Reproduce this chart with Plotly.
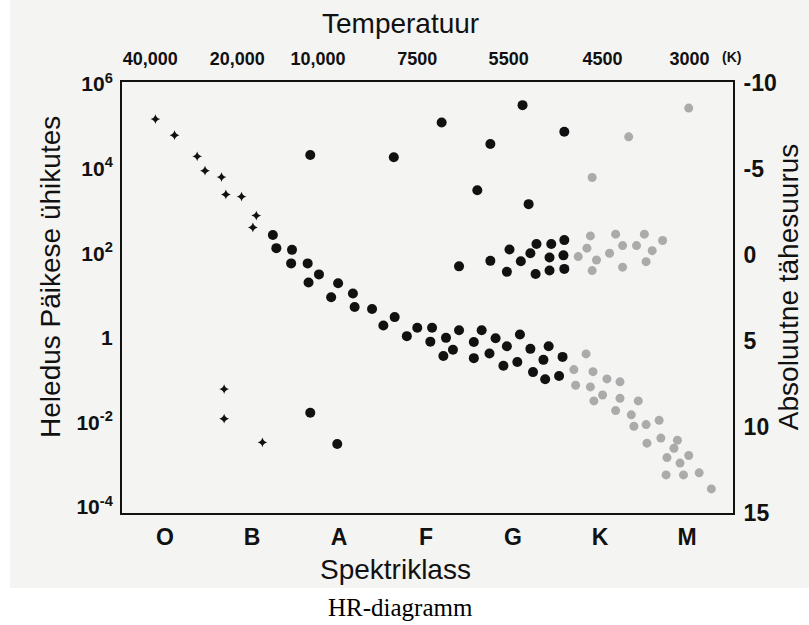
import plotly.graph_objects as go

# Spectral classes (bottom axis) and temperature ticks (top axis)
spectral_labels = ["O", "B", "A", "F", "G", "K", "M"]
spectral_pos = [0, 1, 2, 3, 4, 5, 6]
temp_labels = ["40,000", "20,000", "10,000", "7500", "5500", "4500", "3000"]
temp_pos = [-0.17, 0.83, 1.76, 2.90, 3.95, 5.03, 6.03]

# Luminosity ticks (log10 of L/Lsun) and absolute magnitude ticks
lum_exp = [-4, -2, 0, 2, 4, 6]
lum_labels = ["10<sup>-4</sup>", "10<sup>-2</sup>", "1", "10<sup>2</sup>", "10<sup>4</sup>", "10<sup>6</sup>"]
mag_ticks = [-10, -5, 0, 5, 10, 15]

# Small star markers (hot O/B stars and faint dwarfs)
small_class = [-0.11, 0.11, 0.37, 0.46, 0.65, 0.70, 0.88, 1.05, 1.01, 0.68, 0.68, 1.12]
small_loglum = [5.17, 4.79, 4.29, 3.95, 3.80, 3.39, 3.34, 2.89, 2.61, -1.21, -1.91, -2.47]

# Black dots (main sequence, giants, white dwarfs)
black_class = [1.24, 1.28, 1.46, 1.45, 1.64, 1.77, 1.65, 1.99, 1.91, 2.16, 2.18, 2.38,
               2.64, 2.51, 2.78, 2.90,
               3.07, 3.05, 3.38, 3.64, 3.23, 3.55, 3.80, 4.08, 3.31, 3.20, 3.55, 3.73,
               3.93, 4.20, 4.41, 4.57, 3.89, 4.05, 4.35, 4.23, 4.37, 4.53,
               1.67, 2.63, 3.18, 4.11, 3.74, 4.59, 3.59, 4.18,
               3.96, 4.27, 4.44, 4.59, 4.20, 4.42, 4.58, 4.09, 3.74, 3.38, 3.93, 4.26, 4.42, 4.59,
               1.67, 1.98]
black_loglum = [2.43, 2.12, 2.08, 1.76, 1.76, 1.50, 1.31, 1.29, 0.96, 1.05, 0.73, 0.68,
                0.49, 0.29, 0.04, 0.24,
                0.24, -0.09, 0.18, 0.18, 0.00, -0.10, -0.01, 0.08, -0.28, -0.43, -0.48, -0.37,
                -0.20, -0.26, -0.20, -0.45, -0.66, -0.57, -0.52, -0.81, -0.98, -0.90,
                4.32, 4.27, 5.09, 5.50, 4.58, 4.87, 3.49, 3.16,
                2.09, 2.22, 2.22, 2.31, 2.00, 1.90, 1.95, 1.81, 1.82, 1.69, 1.56, 1.51, 1.59, 1.63,
                -1.77, -2.51]

# Grey dots (cool K/M stars)
grey_class = [6.02, 5.33, 4.91, 4.89, 5.18, 5.51, 5.72, 4.85, 5.26, 5.42, 5.60, 4.75,
              4.96, 5.11, 5.53, 4.91, 5.26,
              4.84, 4.70, 4.92, 5.08, 5.23, 4.72, 4.89, 5.03, 5.23, 5.44, 4.93, 5.18,
              5.36, 5.39, 5.53, 5.68, 5.70, 5.54, 5.89, 5.85, 6.02, 5.77, 5.92, 5.76,
              5.96, 6.14, 6.28]
grey_loglum = [5.43, 4.75, 3.79, 2.41, 2.45, 2.45, 2.30, 2.12, 2.18, 2.18, 2.06, 1.92,
               1.84, 2.00, 1.80, 1.59, 1.67,
               -0.38, -0.75, -0.80, -0.97, -1.04, -1.12, -1.16, -1.35, -1.43, -1.49, -1.49, -1.72,
               -1.82, -2.09, -2.05, -1.95, -2.37, -2.49, -2.42, -2.61, -2.78, -2.83, -2.96, -3.24,
               -3.24, -3.19, -3.57]

FONT = "Liberation Sans"
INK = "#111111"

fig = go.Figure()
fig.add_trace(go.Scatter(x=black_class, y=[10 ** v for v in black_loglum], mode="markers",
                         marker=dict(size=10, color=INK), hoverinfo="skip", showlegend=False))
fig.add_trace(go.Scatter(x=grey_class, y=[10 ** v for v in grey_loglum], mode="markers",
                         marker=dict(size=9, color="#ababab"), hoverinfo="skip", showlegend=False))
fig.add_trace(go.Scatter(x=small_class, y=[10 ** v for v in small_loglum], mode="markers",
                         marker=dict(size=7, color=INK, symbol="star-diamond"),
                         hoverinfo="skip", showlegend=False))
# helper trace to register the top/right axes
fig.add_trace(go.Scatter(x=[None], y=[None], xaxis="x2", yaxis="y2", mode="markers",
                         hoverinfo="skip", showlegend=False))

xr = [-0.494, 6.529]
common = dict(showgrid=False, zeroline=False, showline=True, linecolor=INK, linewidth=2,
              ticks="", automargin=False)
fig.update_layout(
    template="none",
    width=809, height=625,
    margin=dict(l=122, r=76, t=82, b=112, pad=0),
    paper_bgcolor="white", plot_bgcolor="rgba(0,0,0,0)",
    font=dict(family=FONT, color=INK),
    showlegend=False,
    xaxis=dict(range=xr, tickvals=spectral_pos, ticktext=spectral_labels, ticklabelstandoff=2,
               tickfont=dict(family=FONT, size=23, color=INK, weight="bold"), **common),
    xaxis2=dict(range=xr, overlaying="x", side="top", tickvals=temp_pos, ticktext=temp_labels,
                ticklabelstandoff=8,
                tickfont=dict(family=FONT, size=18, color=INK, weight="bold"), **common),
    yaxis=dict(type="log", range=[-4.14, 6.047], tickvals=[10 ** e for e in lum_exp], ticktext=lum_labels,
               ticklabelstandoff=3,
               tickfont=dict(family=FONT, size=21, color=INK, weight="bold"), **common),
    yaxis2=dict(range=[15.02, -10.06], overlaying="y", side="right", tickvals=mag_ticks,
                ticktext=[("-" + str(abs(t))) if t < 0 else str(t) for t in mag_ticks],
                ticklabelstandoff=4,
                tickfont=dict(family=FONT, size=23, color=INK, weight="bold"), **common),
    shapes=[dict(type="rect", xref="paper", yref="paper", x0=-0.1833, x1=1.13, y0=-0.174, y1=1.2,
                 fillcolor="#f4f4f2", line=dict(width=0), layer="below")],
    annotations=[
        dict(text="Temperatuur", xref="paper", yref="paper", x=0.455, y=1.135, showarrow=False,
             font=dict(size=28, family=FONT, color=INK), xanchor="center", yanchor="middle"),
        dict(text="(K)", xref="paper", yref="paper", x=0.998, y=1.058, showarrow=False,
             font=dict(size=14, family=FONT, color=INK, weight="bold"), xanchor="center", yanchor="middle"),
        dict(text="Spektriklass", xref="paper", yref="paper", x=0.447, y=-0.130, showarrow=False,
             font=dict(size=28, family=FONT, color=INK), xanchor="center", yanchor="middle"),
        dict(text="Heledus Päikese ühikutes", xref="paper", yref="paper", x=-0.116, y=0.548,
             showarrow=False, textangle=-90,
             font=dict(size=28, family=FONT, color=INK), xanchor="center", yanchor="middle"),
        dict(text="Absoluutne tähesuurus", xref="paper", yref="paper", x=1.090, y=0.524,
             showarrow=False, textangle=-90,
             font=dict(size=28, family=FONT, color=INK), xanchor="center", yanchor="middle"),
        dict(text="HR-diagramm", xref="paper", yref="paper", x=0.455, y=-0.220, showarrow=False,
             font=dict(size=25, family="Liberation Serif", color="black"), xanchor="center", yanchor="middle"),
    ],
)

fig.write_html("out.html", config={"displayModeBar": False},
               post_script="document.body.style.margin='0';document.body.style.padding='0';")
